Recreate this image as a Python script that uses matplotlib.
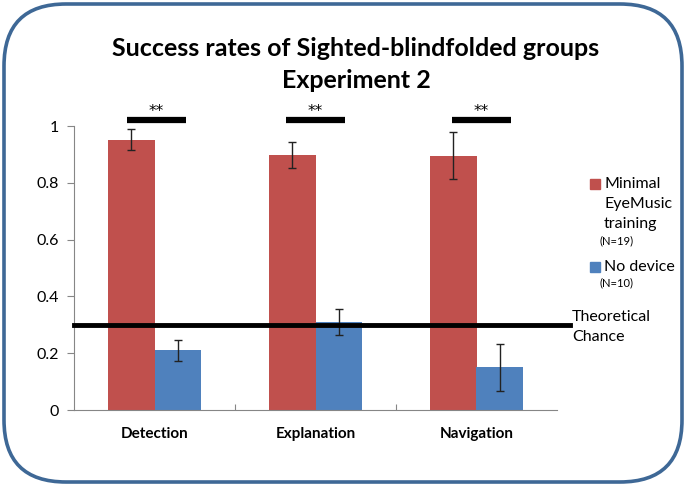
import numpy as np
from matplotlib import pyplot as plt
from matplotlib.patches import FancyBboxPatch, Rectangle

plt.rcParams['font.family'] = ['Lato', 'DejaVu Sans']

# data
categories = ['Detection', 'Explanation', 'Navigation']
trained = [0.952, 0.898, 0.895]
trained_err = [0.038, 0.046, 0.083]
no_device = [0.21, 0.31, 0.15]
no_device_err = [0.038, 0.045, 0.084]
chance = 0.3
stars = ['**', '**', '**']

red = '#C0504D'
blue = '#4F81BD'

fig = plt.figure(figsize=(6.86, 4.86), dpi=100)

# rounded frame, drawn in pixel coordinates
bg = fig.add_axes([0, 0, 1, 1])
bg.set_xlim(0, 686)
bg.set_ylim(486, 0)
bg.axis('off')
bg.add_patch(FancyBboxPatch((4, 4), 678, 478, boxstyle='round,pad=0,rounding_size=62',
                            facecolor='white', edgecolor='#3E6896', linewidth=2.6))

ax = fig.add_axes([74/686, 1-410/486, (557-74)/686, (410-126)/486])
ax.patch.set_alpha(0)
x = np.arange(len(categories))
w = 0.286
ax.bar(x - w/2, trained, w, color=red, zorder=2)
ax.bar(x + w/2, no_device, w, color=blue, zorder=2)
ax.errorbar(x - w/2, trained, yerr=trained_err, fmt='none', ecolor='#222222',
            elinewidth=1, capsize=3, zorder=3)
ax.errorbar(x + w/2, no_device, yerr=no_device_err, fmt='none', ecolor='#222222',
            elinewidth=1, capsize=3, zorder=3)

# theoretical chance line
ax.plot([-0.5, 2.58], [chance, chance], color='black', lw=3.5, clip_on=False, zorder=4)

# significance markers
sig_x = [0.01, 0.0, 0.03]
for i, s in enumerate(stars):
    ax.plot([x[i] + sig_x[i] - 0.183, x[i] + sig_x[i] + 0.183], [1.021, 1.021],
            color='black', lw=4.5, clip_on=False, solid_capstyle='butt')
    ax.text(x[i] + sig_x[i], 1.024, s, ha='center', va='bottom', fontsize=11,
            family='DejaVu Sans')

ax.set_xlim(-0.5, 2.5)
ax.set_ylim(0, 1)
ax.set_yticks([0, 0.2, 0.4, 0.6, 0.8, 1.0])
ax.set_yticklabels(['0', '0.2', '0.4', '0.6', '0.8', '1'], fontsize=11.5)
ax.set_xticks([0.5, 1.5])
ax.set_xticklabels([])
ax.set_xticks(x, minor=True)
ax.set_xticklabels(categories, minor=True, fontsize=11, fontweight='bold')
ax.tick_params(axis='x', which='minor', length=0, pad=12)
ax.tick_params(axis='x', which='major', length=4, direction='in', color='#868686')
ax.tick_params(axis='y', length=5, color='#868686', pad=6)
for side in ['top', 'right']:
    ax.spines[side].set_visible(False)
for side in ['left', 'bottom']:
    ax.spines[side].set_color('#868686')

# title
bg.text(356, 48, 'Success rates of Sighted-blindfolded groups', ha='center', va='center',
        fontsize=18, fontweight='bold')
bg.text(356, 81, 'Experiment 2', ha='center', va='center', fontsize=18, fontweight='bold')

# legend
bg.add_patch(Rectangle((590, 179), 10, 10, color=red))
bg.text(604, 184, 'Minimal', va='center', fontsize=11.5)
bg.text(604, 204, 'EyeMusic', va='center', fontsize=11.5)
bg.text(604, 224, 'training', va='center', fontsize=11.5)
bg.text(600, 241, '(N=19)', va='center', fontsize=8)
bg.add_patch(Rectangle((590, 262), 10, 10, color=blue))
bg.text(604, 267, 'No device', va='center', fontsize=11.5)
bg.text(600, 283, '(N=10)', va='center', fontsize=8)
bg.text(572, 317, 'Theoretical', va='center', fontsize=11.5)
bg.text(572, 337, 'Chance', va='center', fontsize=11.5)

plt.savefig('out.png', dpi=100)
